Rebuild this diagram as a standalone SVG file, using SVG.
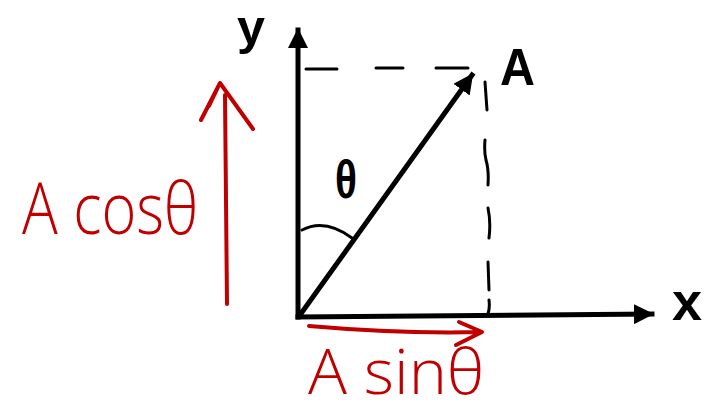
<svg xmlns="http://www.w3.org/2000/svg" width="720" height="412" viewBox="0 0 720 412">
<defs>
<style>
.ax{stroke:#000;stroke-width:5;fill:none;stroke-linecap:square}
.dash{stroke:#000;stroke-width:3;fill:none;stroke-linecap:round}
.red{stroke:#c00000;stroke-width:4;fill:none;stroke-linecap:round;stroke-linejoin:round}
.lbl{font-family:"Liberation Sans",Arial,sans-serif;font-weight:bold;fill:#000}
.hand{font-family:"Open Sans","DejaVu Sans",sans-serif;font-weight:300;fill:#c00000}
</style>
<marker id="ah" viewBox="0 0 10 10" refX="9" refY="5" markerWidth="4" markerHeight="4" orient="auto" markerUnits="strokeWidth">
<path d="M0,0 L10,5 L0,10 z" fill="#000"/>
</marker>
</defs>
<rect width="720" height="412" fill="#fff"/>
<g id="connectors">
<line class="ax" x1="298" y1="317" x2="298" y2="30" marker-end="url(#ah)"/>
<line class="ax" x1="298" y1="317" x2="652" y2="314" marker-end="url(#ah)"/>
<line class="ax" x1="300" y1="315" x2="472" y2="75" marker-end="url(#ah)"/>
<path class="dash" d="M306,69 L337,69 M376,68 L403,68 M436,68 L468,68"/>
<path class="dash" d="M485,82 L487,110 M485,140 Q484,152 486,160 Q489,170 488,185 M488,208 Q491,222 489,238 M488,262 L489,290 M489,300 Q490,308 488,314"/>
<path class="dash" d="M302,230 Q325,218 352,238"/>
<path class="red" d="M227,304 L225,95 M220,83 L201,120 M209,106 L220,83 L253,129"/>
<path class="red" d="M309,326 Q400,334 482,332 M459,322 L482,332 L456,345"/>
</g>
<g id="y-label"><text class="lbl" x="237" y="44" font-size="48" textLength="28" lengthAdjust="spacingAndGlyphs">y</text></g>
<g id="x-label"><text class="lbl" x="672" y="320" font-size="54">x</text></g>
<g id="A-label"><text class="lbl" x="500" y="85" font-size="52" textLength="35" lengthAdjust="spacingAndGlyphs">A</text></g>
<g id="theta-label"><text class="lbl" x="335" y="198" font-size="54" textLength="22" lengthAdjust="spacingAndGlyphs">θ</text></g>
<g id="acos"><text class="hand" x="22" y="234" font-size="72" textLength="176" lengthAdjust="spacingAndGlyphs">A cosθ</text></g>
<g id="asin"><text class="hand" x="308" y="394" font-size="62" textLength="176" lengthAdjust="spacingAndGlyphs">A sinθ</text></g>
</svg>
